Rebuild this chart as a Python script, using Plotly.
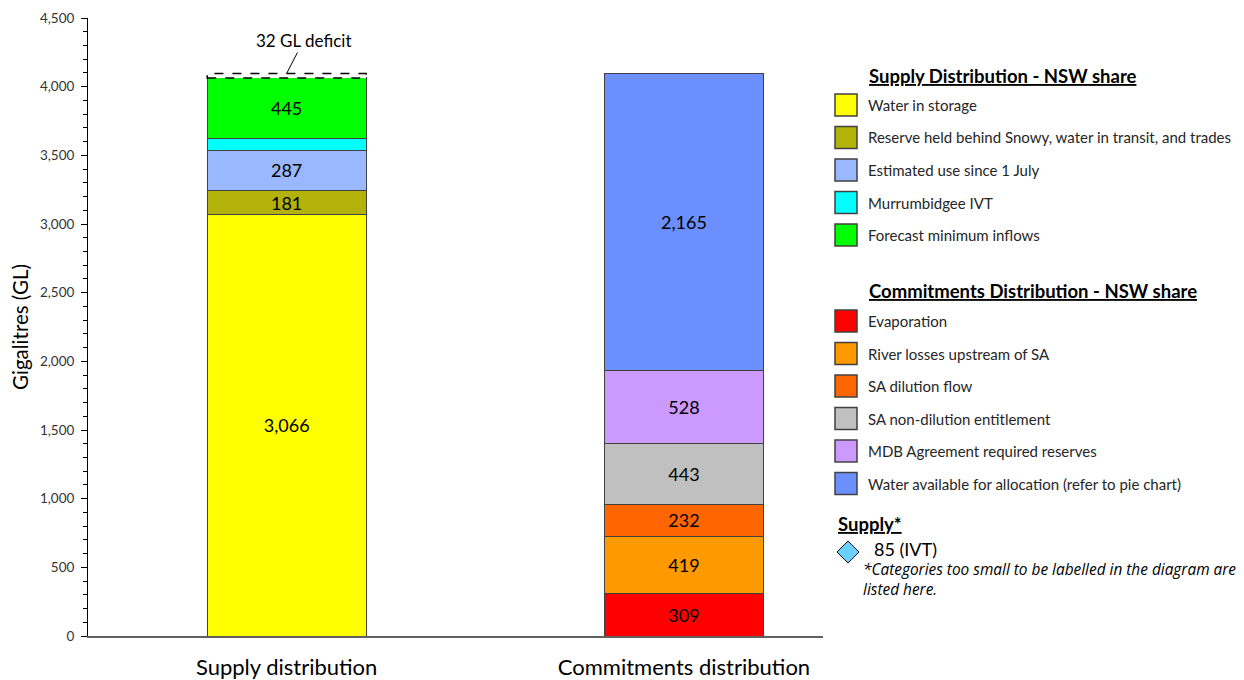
import plotly.graph_objects as go

# ---------------- data ----------------
bar_categories = ["Supply distribution", "Commitments distribution"]

supply_names = ["Water in storage",
                "Reserve held behind Snowy, water in transit, and trades",
                "Estimated use since 1 July",
                "Murrumbidgee IVT",
                "Forecast minimum inflows"]
supply_values = [3066, 181, 287, 85, 445]
supply_labelled = [True, True, True, False, True]
supply_colors = ["#FFFF00", "#B2B20A", "#99B8FF", "#00FFFF", "#00FF00"]

deficit_value = 32
deficit_label = "32 GL deficit"

commit_names = ["Evaporation",
                "River losses upstream of SA",
                "SA dilution flow",
                "SA non-dilution entitlement",
                "MDB Agreement required reserves",
                "Water available for allocation (refer to pie chart)"]
commit_values = [309, 419, 232, 443, 528, 2165]
commit_colors = ["#FF0000", "#FF9900", "#FF6600", "#C0C0C0", "#CC99FF", "#6B8FFF"]

small_items = ["85 (IVT)"]
note_lines = ["*Categories too small to be labelled in the diagram are", "listed here."]

y_ticks = [0, 500, 1000, 1500, 2000, 2500, 3000, 3500, 4000, 4500]

FONT = "Lato"

# ---------------- layout geometry (pixels) ----------------
W, H = 1244, 680
L, R, T, B = 88, 823, 18, 636


def px(x):
    return (x - L) / (R - L)


def py(y):
    return (B - y) / (B - T)


fig = go.Figure()

BAR_W = 0.4
LABEL_FONT = dict(family=FONT, size=18, color="black")
for name, v, lab, c in zip(supply_names, supply_values, supply_labelled, supply_colors):
    fig.add_trace(go.Bar(
        x=[bar_categories[0]], y=[v], name=name, width=BAR_W,
        marker=dict(color=c, line=dict(color="#404040", width=1)),
        text=[f"{v:,}" if lab else ""], textposition="inside",
        insidetextanchor="middle", constraintext="none",
        textfont=LABEL_FONT, hoverinfo="skip", showlegend=False))

# deficit (white block, dashed outline drawn as shape)
fig.add_trace(go.Bar(
    x=[bar_categories[0]], y=[deficit_value], width=BAR_W,
    marker=dict(color="white", line=dict(width=0)),
    hoverinfo="skip", showlegend=False))

for name, v, c in zip(commit_names, commit_values, commit_colors):
    fig.add_trace(go.Bar(
        x=[bar_categories[1]], y=[v], name=name, width=BAR_W,
        marker=dict(color=c, line=dict(color="#404040", width=1)),
        text=[f"{v:,}"], textposition="inside",
        insidetextanchor="middle", constraintext="none",
        textfont=LABEL_FONT, hoverinfo="skip", showlegend=False))

supply_total = sum(supply_values)
shapes = []
shapes.append(dict(type="rect", xref="x", yref="y",
                   x0=-BAR_W / 2, x1=BAR_W / 2,
                   y0=supply_total, y1=supply_total + deficit_value,
                   line=dict(color="black", width=1.5, dash="dash"),
                   fillcolor="rgba(0,0,0,0)", layer="above"))

annotations = []
annotations.append(dict(x=0, y=supply_total + deficit_value, xref="x", yref="y",
                        text=deficit_label, showarrow=True, arrowhead=0,
                        arrowwidth=1, arrowcolor="black", ax=17, ay=-33,
                        font=dict(family=FONT, size=17, color="black")))

# ---------------- custom legend ----------------
def legend_block(title, title_y, names, colors, row0, step):
    annotations.append(dict(x=px(867), y=py(title_y), xref="paper", yref="paper",
                            xanchor="left", yanchor="middle", showarrow=False,
                            text=f"<b><u>{title}</u></b>",
                            font=dict(family=FONT, size=18.5, color="black")))
    for i, (n, c) in enumerate(zip(names, colors)):
        cy = row0 + i * step
        shapes.append(dict(type="rect", xref="paper", yref="paper",
                           x0=px(835), x1=px(857), y0=py(cy + 11), y1=py(cy - 11),
                           fillcolor=c, line=dict(color="#404040", width=1.5)))
        annotations.append(dict(x=px(866), y=py(cy), xref="paper", yref="paper",
                                xanchor="left", yanchor="middle", showarrow=False,
                                text=n, font=dict(family=FONT, size=15, color="#262626")))


legend_block("Supply Distribution - NSW share", 76, supply_names, supply_colors, 105, 32.5)
legend_block("Commitments Distribution - NSW share", 291, commit_names, commit_colors, 321, 32.5)

annotations.append(dict(x=px(836), y=py(524), xref="paper", yref="paper",
                        xanchor="left", yanchor="middle", showarrow=False,
                        text="<b><u>Supply*</u></b>",
                        font=dict(family=FONT, size=18.5, color="black")))
# diamond marker
dcx, dcy, dr = 848, 552, 11
path = (f"M {px(dcx - dr)} {py(dcy)} L {px(dcx)} {py(dcy - dr)} "
        f"L {px(dcx + dr)} {py(dcy)} L {px(dcx)} {py(dcy + dr)} Z")
shapes.append(dict(type="path", xref="paper", yref="paper", path=path,
                   fillcolor="#6DCFFF", line=dict(color="#1a1a1a", width=1)))
for i, s in enumerate(small_items):
    annotations.append(dict(x=px(872), y=py(549 + i * 20), xref="paper", yref="paper",
                            xanchor="left", yanchor="middle", showarrow=False,
                            text=s, font=dict(family=FONT, size=18, color="black")))
for i, s in enumerate(note_lines):
    annotations.append(dict(x=px(861), y=py(569 + i * 20.5), xref="paper", yref="paper",
                            xanchor="left", yanchor="middle", showarrow=False,
                            text=f"<i>{s}</i>",
                            font=dict(family="Open Sans", size=15.4, color="black")))

fig.update_layout(
    barmode="stack",
    width=W, height=H,
    margin=dict(l=L, r=W - R, t=T, b=H - B, pad=0, autoexpand=False),
    paper_bgcolor="white", plot_bgcolor="white",
    font=dict(family=FONT, color="black"),
    shapes=shapes, annotations=annotations,
    showlegend=False,
)
fig.update_xaxes(type="category", range=[-0.5, 1.35],
                 showline=True, linecolor="#606060", linewidth=2,
                 ticks="", showgrid=False, zeroline=False,
                 ticklabelstandoff=11, automargin=False,
                 tickfont=dict(family=FONT, size=22, color="black"))
fig.update_yaxes(range=[0, 4500], tickvals=y_ticks,
                 ticktext=[f"{t:,}" for t in y_ticks],
                 showline=True, linecolor="black", linewidth=1,
                 ticks="outside", ticklen=6, tickcolor="black",
                 minor=dict(ticks="outside", ticklen=4, dtick=100, tickcolor="black"),
                 showgrid=False, zeroline=False, automargin=False,
                 ticklabelstandoff=4,
                 tickfont=dict(family=FONT, size=13.5, color="#333333"),
                 title=dict(text="Gigalitres (GL)", font=dict(family=FONT, size=20.5, color="black"),
                            standoff=5))

fig.write_html("out.html", config={"displayModeBar": False},
               post_script="document.body.style.margin='0';")
